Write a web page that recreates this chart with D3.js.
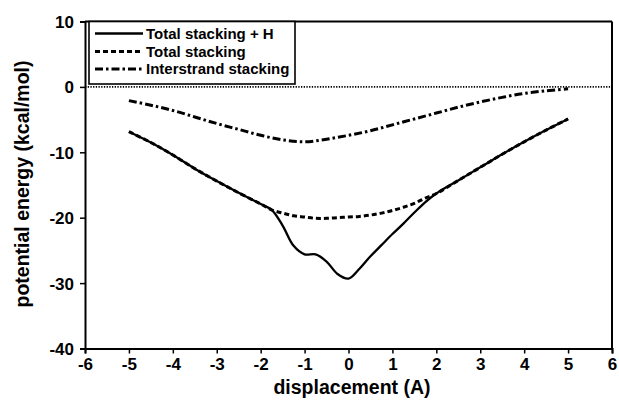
<!DOCTYPE html>
<html>
<head>
<meta charset="utf-8">
<script src="https://cdn.jsdelivr.net/npm/d3@7"></script>
<style>
  html, body { margin: 0; padding: 0; background: #fff; }
  svg { display: block; }
  text { font-family: "Liberation Sans", Arial, Helvetica, sans-serif; font-weight: bold; fill: #000; }
</style>
</head>
<body>
<svg id="chart" width="619" height="400"></svg>
<script>
// ---- data ----
const seriesNames = ["Total stacking + H", "Total stacking", "Interstrand stacking"];

const totalHX = [-5, -4.5, -4, -3.5, -3, -2.5, -2, -1.75, -1.5, -1.25, -1, -0.75, -0.5, -0.25, 0, 0.25, 0.5, 0.75, 1, 1.25, 1.5, 1.75, 2, 2.5, 3, 3.5, 4, 4.5, 5];
const totalHY = [-6.85, -8.5, -10.4, -12.5, -14.4, -16.2, -17.9, -18.8, -21.2, -24.3, -25.6, -25.6, -26.7, -28.6, -29.3, -27.8, -25.9, -24.2, -22.5, -20.9, -19.2, -17.6, -16.3, -14.3, -12.3, -10.3, -8.4, -6.6, -4.9];

const totalX = [-5, -4.5, -4, -3.5, -3, -2.5, -2, -1.75, -1.5, -1.25, -1, -0.75, -0.5, -0.25, 0, 0.25, 0.5, 0.75, 1, 1.25, 1.5, 1.75, 2, 2.5, 3, 3.5, 4, 4.5, 5];
const totalY = [-6.85, -8.5, -10.4, -12.5, -14.4, -16.2, -17.9, -18.8, -19.3, -19.7, -19.9, -20.1, -20.1, -20.0, -19.9, -19.8, -19.6, -19.3, -18.9, -18.4, -17.8, -17.0, -16.3, -14.3, -12.3, -10.3, -8.4, -6.6, -4.9];

const interX = [-5, -4.5, -4, -3.5, -3, -2.5, -2, -1.5, -1, -0.5, 0, 0.5, 1, 1.5, 2, 2.5, 3, 3.5, 4, 4.5, 5];
const interY = [-2.1, -2.8, -3.6, -4.6, -5.6, -6.5, -7.4, -8.1, -8.4, -8.0, -7.4, -6.7, -5.8, -4.9, -4.0, -3.1, -2.3, -1.6, -1.0, -0.6, -0.3];

const xTicks = [-6, -5, -4, -3, -2, -1, 0, 1, 2, 3, 4, 5, 6];
const yTicks = [10, 0, -10, -20, -30, -40];
const xLabel = "displacement (A)";
const yLabel = "potential energy (kcal/mol)";

// ---- layout ----
const svg = d3.select("#chart");
const pL = 85, pR = 612, pT = 21.5, pB = 348.5;

const x = d3.scaleLinear().domain([-6, 6]).range([pL, pR]);
const y = d3.scaleLinear().domain([-40, 10]).range([pB, pT]);

const styles = [
  { dash: null, width: 2.3 },
  { dash: "5,3", width: 3 },
  { dash: "8,3,2.5,3", width: 3 }
];

const seriesData = [
  totalHX.map((v, i) => [v, totalHY[i]]),
  totalX.map((v, i) => [v, totalY[i]]),
  interX.map((v, i) => [v, interY[i]])
];

// zero line
svg.append("line")
  .attr("x1", x(-6)).attr("x2", x(6))
  .attr("y1", y(0)).attr("y2", y(0))
  .attr("stroke", "#000").attr("stroke-width", 1.6)
  .attr("stroke-dasharray", "1.3,1.4");

const line = d3.line().x(d => x(d[0])).y(d => y(d[1])).curve(d3.curveCatmullRom.alpha(0.5));

[1, 2, 0].forEach(i => {
  svg.append("path")
    .datum(seriesData[i])
    .attr("d", line)
    .attr("fill", "none")
    .attr("stroke", "#000")
    .attr("stroke-width", styles[i].width)
    .attr("stroke-dasharray", styles[i].dash);
});

const fmt = d => String(d);

// axes
const xAxis = svg.append("g")
  .attr("transform", `translate(0,${pB})`)
  .call(d3.axisBottom(x).tickValues(xTicks).tickSize(5).tickPadding(4).tickFormat(fmt));
const yAxis = svg.append("g")
  .attr("transform", `translate(${pL},0)`)
  .call(d3.axisLeft(y).tickValues(yTicks).tickSize(5).tickPadding(6).tickFormat(fmt));

[xAxis, yAxis].forEach(g => {
  g.select(".domain").attr("stroke", "#000").attr("stroke-width", 2);
  g.selectAll(".tick line").attr("stroke", "#000").attr("stroke-width", 1.5);
  g.selectAll(".tick text")
    .style("font-family", '"Liberation Sans", Arial, sans-serif')
    .style("font-weight", "bold")
    .style("font-size", "17px")
    .attr("fill", "#000");
});
xAxis.selectAll(".tick text").attr("dy", "0.75em");
yAxis.selectAll(".tick text").attr("dy", "0.35em");

// frame top & right
svg.append("line").attr("x1", pL).attr("x2", pR).attr("y1", pT).attr("y2", pT)
  .attr("stroke", "#000").attr("stroke-width", 2);
svg.append("line").attr("x1", pR).attr("x2", pR).attr("y1", pT).attr("y2", pB)
  .attr("stroke", "#000").attr("stroke-width", 2);

// axis titles
svg.append("text")
  .attr("x", 352).attr("y", 394)
  .attr("text-anchor", "middle")
  .style("font-size", "19.5px")
  .text(xLabel);
svg.append("text")
  .attr("transform", `translate(29,${(pT + pB) / 2 - 1}) rotate(-90)`)
  .attr("text-anchor", "middle")
  .style("font-size", "19.5px")
  .text(yLabel);

// legend
const lg = svg.append("g");
lg.append("rect")
  .attr("x", 89).attr("y", pT).attr("width", 206).attr("height", 62.5)
  .attr("fill", "#fff").attr("stroke", "#000").attr("stroke-width", 1.6);
const rowY = [33.5, 51.5, 69];
seriesNames.forEach((name, i) => {
  lg.append("line")
    .attr("x1", 95).attr("x2", 143)
    .attr("y1", rowY[i]).attr("y2", rowY[i])
    .attr("stroke", "#000")
    .attr("stroke-width", styles[i].width)
    .attr("stroke-dasharray", styles[i].dash);
  lg.append("text")
    .attr("x", 146).attr("y", rowY[i])
    .attr("dy", "0.36em")
    .style("font-size", "15px")
    .text(name);
});
</script>
</body>
</html>
